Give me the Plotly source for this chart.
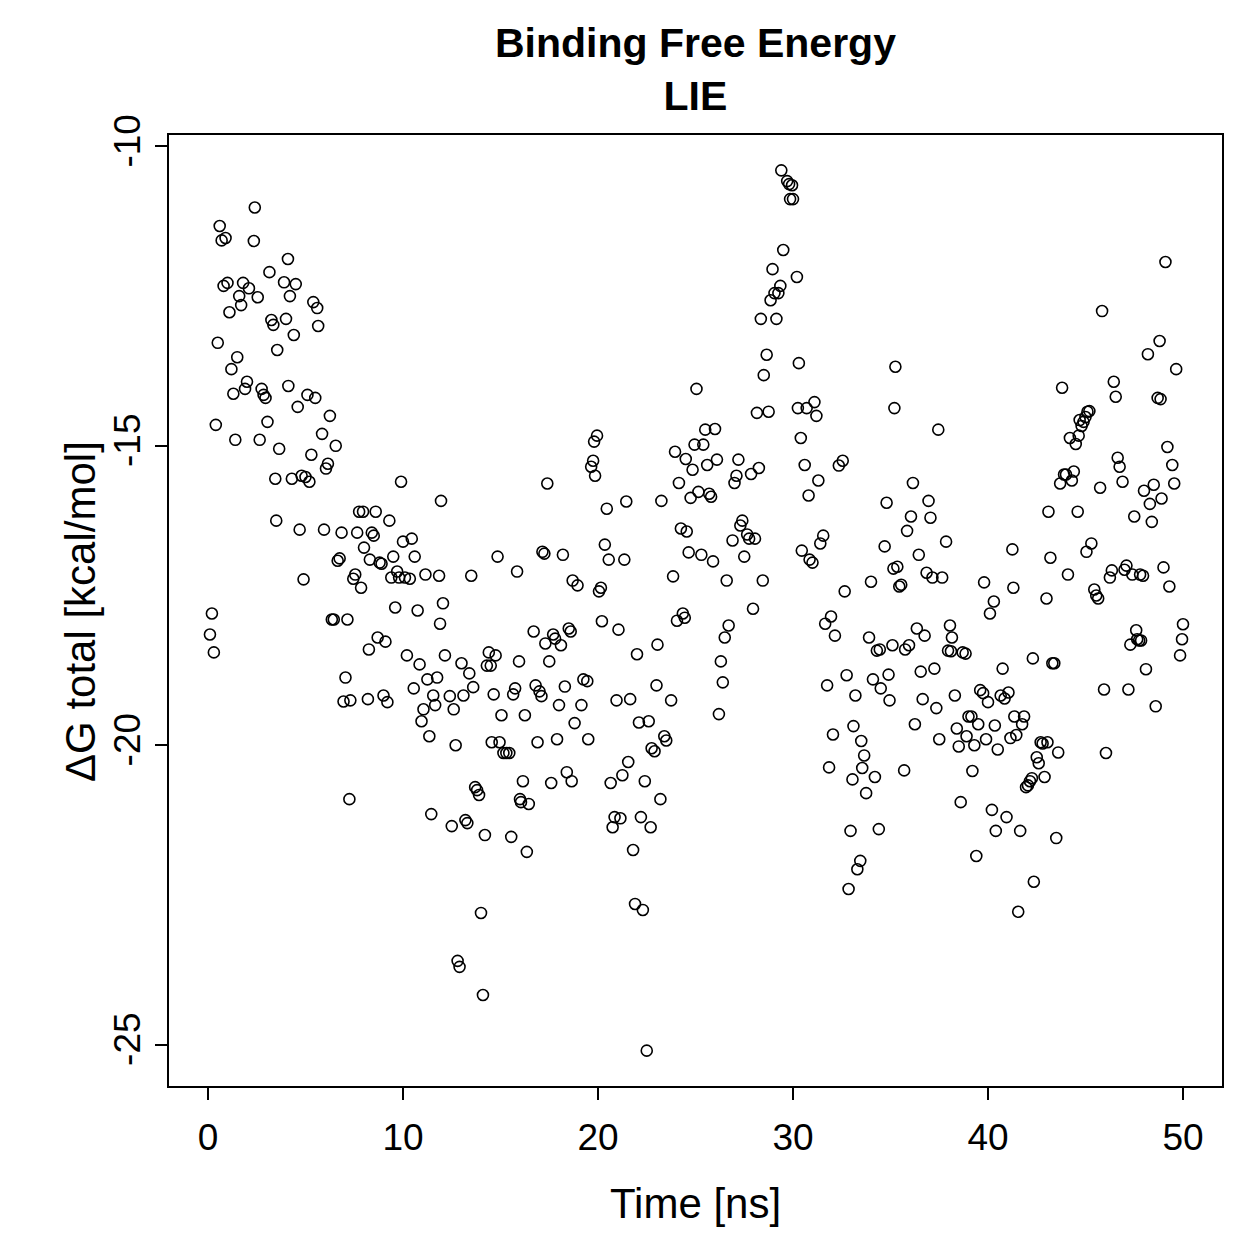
import plotly.graph_objects as go

time_ns = [
    0.1, 0.2, 0.3, 0.4, 0.5, 0.6, 0.7, 0.9, 0.8, 1.0, 1.1, 1.2, 1.3, 1.4, 1.5, 1.6, 1.7, 1.8, 1.9, 2.0,
    2.1, 2.35, 2.4, 2.55, 2.65, 2.75, 2.85, 2.95, 3.05, 3.15, 3.25, 3.35, 3.45, 3.55, 3.5, 3.65, 3.9, 4.0, 4.1, 4.12,
    4.2, 4.3, 4.4, 4.5, 4.6, 4.7, 4.8, 5.0, 4.9, 5.1, 5.2, 5.3, 5.4, 5.6, 5.5, 5.65, 5.85, 5.95, 6.05, 6.15,
    6.25, 6.35, 6.45, 6.55, 6.65, 6.75, 6.85, 6.95, 7.05, 7.15, 7.25, 7.3, 7.45, 7.55, 7.65, 7.75, 7.85, 7.95, 8.0, 8.2,
    8.25, 8.3, 8.4, 8.5, 8.6, 8.7, 8.8, 8.9, 9.0, 9.2, 9.1, 9.3, 9.4, 9.5, 9.6, 9.7, 9.8, 9.9, 10.0, 10.1,
    10.2, 10.35, 10.45, 10.55, 10.6, 10.75, 10.85, 10.95, 11.05, 11.15, 11.25, 11.35, 11.45, 11.55, 11.65, 11.75, 11.85, 11.9, 11.95, 12.05,
    12.15, 12.4, 12.5, 12.6, 12.7, 12.8, 12.9, 13.0, 13.1, 13.2, 13.3, 13.4, 13.5, 13.6, 13.7, 13.8, 13.9, 14.0, 14.1, 14.2,
    14.3, 14.4, 14.5, 14.55, 14.65, 14.75, 14.85, 14.95, 15.05, 15.15, 15.3, 15.45, 15.55, 15.65, 15.75, 15.85, 15.95, 16.0, 16.05, 16.15,
    16.25, 16.35, 16.45, 16.7, 16.8, 16.9, 17.0, 17.1, 17.15, 17.25, 17.3, 17.4, 17.5, 17.6, 17.7, 17.8, 17.9, 18.0, 18.1, 18.2,
    18.3, 18.4, 18.5, 18.6, 18.65, 18.7, 18.8, 18.95, 19.15, 19.25, 19.45, 19.5, 19.65, 19.75, 19.8, 19.85, 19.95, 20.05, 20.15, 20.2,
    20.35, 20.45, 20.55, 20.65, 20.75, 20.85, 20.95, 21.05, 21.15, 21.25, 21.35, 21.45, 21.55, 21.65, 21.8, 21.9, 22.0, 22.1, 22.2, 22.3,
    22.4, 22.5, 22.6, 22.7, 22.75, 22.9, 23.0, 23.05, 23.2, 23.25, 23.4, 23.5, 23.75, 23.85, 23.95, 24.05, 24.15, 24.25, 24.35, 24.45,
    24.5, 24.55, 24.65, 24.75, 24.85, 24.95, 25.05, 25.15, 25.3, 25.4, 25.5, 25.6, 25.7, 25.8, 25.9, 26.0, 26.1, 26.2, 26.3, 26.4,
    26.5, 26.6, 26.7, 26.9, 27.0, 27.1, 27.2, 27.3, 27.4, 27.5, 27.65, 27.75, 27.85, 27.95, 28.05, 28.15, 28.25, 28.35, 28.45, 28.5,
    28.65, 28.75, 28.85, 28.95, 29.05, 29.15, 29.25, 29.35, 29.5, 29.4, 29.7, 29.8, 29.95, 29.85, 30.0, 30.2, 30.3, 30.25, 30.4, 30.45,
    30.6, 30.7, 30.8, 30.85, 31.0, 31.1, 31.2, 31.3, 31.4, 31.55, 31.65, 31.75, 31.85, 31.95, 32.05, 32.15, 32.35, 32.55, 32.65, 32.75,
    32.85, 32.95, 33.05, 33.1, 33.2, 33.3, 33.45, 33.5, 33.55, 33.65, 33.75, 33.9, 34.0, 34.1, 34.2, 34.3, 34.45, 34.4, 34.5, 34.7,
    34.8, 34.9, 34.95, 35.1, 35.15, 35.2, 35.25, 35.35, 35.45, 35.55, 35.7, 35.75, 35.85, 35.95, 36.05, 36.15, 36.25, 36.35, 36.45, 36.55,
    36.65, 36.75, 36.85, 36.95, 37.05, 37.15, 37.25, 37.35, 37.45, 37.5, 37.65, 37.85, 37.95, 38.1, 38.05, 38.15, 38.3, 38.4, 38.5, 38.6,
    38.7, 38.85, 38.9, 39.0, 39.15, 39.2, 39.3, 39.4, 39.5, 39.6, 39.75, 39.8, 39.9, 40.0, 40.1, 40.2, 40.3, 40.35, 40.4, 40.5,
    40.65, 40.75, 40.85, 40.95, 41.05, 41.15, 41.25, 41.3, 41.35, 41.45, 41.55, 41.65, 41.75, 41.85, 41.95, 42.05, 42.15, 42.25, 42.3, 42.35,
    42.5, 42.6, 42.7, 42.8, 42.9, 43.0, 43.05, 43.1, 43.2, 43.3, 43.4, 43.5, 43.6, 43.7, 43.8, 43.9, 44.0, 44.1, 44.2, 44.3,
    44.4, 44.5, 44.6, 44.65, 44.7, 44.8, 44.9, 45.0, 45.1, 45.2, 45.05, 45.3, 45.45, 45.55, 45.65, 45.75, 45.85, 45.95, 46.05, 46.25,
    46.35, 46.45, 46.55, 46.65, 46.75, 46.9, 47.0, 47.1, 47.2, 47.3, 47.4, 47.5, 47.6, 47.65, 47.75, 47.85, 47.8, 47.95, 48.0, 48.1,
    48.2, 48.3, 48.4, 48.5, 48.6, 48.7, 48.85, 48.8, 48.9, 49.0, 49.1, 49.2, 49.3, 49.45, 49.55, 49.65, 49.85, 49.95, 50.0,
]

dG_total = [
    -18.15, -17.8, -18.45, -14.65, -13.28, -11.33, -11.57, -11.53, -12.33, -12.28, -12.77, -13.72, -14.13, -14.9, -13.52, -12.5, -12.65, -12.28, -14.05, -13.93,
    -12.37, -11.58, -11.02, -12.52, -14.9, -14.05, -14.15, -14.2, -14.6, -12.1, -12.9, -12.98, -15.55, -13.4, -16.25, -15.05, -12.27, -12.88, -11.88, -14.0,
    -12.5, -15.55, -13.15, -12.3, -14.35, -16.4, -15.5, -15.52, -17.23, -14.15, -15.6, -15.15, -12.6, -12.7, -14.2, -13.0, -14.8, -16.4, -15.38, -15.3,
    -14.5, -17.9, -17.9, -15.0, -16.92, -16.88, -16.45, -19.27, -18.87, -17.9, -20.9, -19.25, -17.22, -17.15, -16.45, -16.1, -17.37, -16.1, -16.7, -19.23,
    -18.4, -16.9, -16.45, -16.5, -16.1, -18.2, -16.95, -16.97, -19.17, -19.28, -18.27, -16.25, -17.2, -16.85, -17.7, -17.1, -17.2, -15.6, -16.6, -17.2,
    -18.5, -17.22, -16.55, -19.05, -16.85, -17.75, -18.65, -19.6, -19.4, -17.15, -18.9, -19.85, -21.15, -19.17, -19.33, -18.87, -17.17, -17.97, -15.92, -17.63,
    -18.5, -19.18, -21.35, -19.4, -20.0, -23.6, -23.7, -18.63, -19.17, -21.25, -21.3, -18.8, -17.17, -19.03, -20.7, -20.75, -20.83, -22.8, -24.17, -21.5,
    -18.67, -18.45, -18.67, -19.95, -19.15, -18.5, -16.85, -19.95, -19.5, -20.13, -20.13, -20.13, -21.53, -19.15, -19.05, -17.1, -18.6, -20.9, -20.95, -20.6,
    -19.5, -21.78, -20.98, -18.1, -19.0, -19.95, -19.1, -19.18, -16.77, -16.8, -18.3, -15.63, -18.6, -20.63, -18.15, -18.22, -19.9, -19.33, -18.33, -16.82,
    -19.02, -20.45, -18.05, -18.1, -20.6, -17.25, -19.63, -17.33, -19.33, -18.9, -18.93, -19.9, -15.35, -15.25, -14.93, -15.5, -14.83, -17.43, -17.37, -17.93,
    -16.65, -16.05, -16.9, -20.63, -21.37, -21.2, -19.25, -18.07, -21.22, -20.5, -16.9, -15.93, -20.28, -19.23, -21.75, -22.65, -18.48, -19.62, -21.2, -22.75,
    -20.6, -25.1, -19.6, -21.37, -20.05, -20.1, -19.0, -18.32, -20.9, -15.92, -19.85, -19.92, -19.25, -17.18, -15.1, -17.92, -15.62, -16.38, -17.8, -17.87,
    -15.22, -16.43, -16.78, -15.87, -15.4, -14.98, -14.05, -15.77, -16.82, -14.98, -14.73, -15.32, -15.8, -15.85, -16.93, -14.72, -15.23, -19.48, -18.6, -18.95,
    -18.2, -17.25, -18.0, -16.58, -15.62, -15.5, -15.23, -16.33, -16.25, -16.85, -16.48, -16.55, -15.47, -17.72, -16.55, -14.45, -15.37, -12.88, -17.25, -13.82,
    -13.48, -14.43, -12.57, -12.05, -12.45, -12.88, -12.45, -12.33, -11.73, -10.4, -10.58, -10.63, -10.65, -10.88, -10.88, -12.18, -13.62, -14.37, -14.87, -16.75,
    -15.32, -14.37, -15.83, -16.9, -16.95, -14.27, -14.5, -15.58, -16.63, -16.5, -17.97, -19.0, -20.37, -17.85, -19.82, -18.17, -15.33, -15.25, -17.43, -18.83,
    -22.4, -21.43, -20.57, -19.68, -19.17, -22.07, -21.93, -19.93, -20.38, -20.17, -20.8, -18.2, -17.27, -18.9, -20.53, -18.42, -18.4, -21.4, -19.05, -16.68,
    -15.95, -18.82, -19.25, -18.33, -17.05, -14.37, -13.68, -17.02, -17.35, -17.32, -20.42, -18.4, -16.42, -18.33, -16.18, -15.62, -19.65, -18.05, -16.82, -18.77,
    -19.23, -18.17, -17.12, -15.92, -16.2, -17.2, -18.72, -19.38, -14.73, -19.9, -17.2, -16.6, -18.42, -18.43, -18.0, -18.2, -19.17, -19.72, -20.02, -20.95,
    -18.45, -18.47, -19.85, -19.52, -19.52, -20.43, -20.0, -21.85, -19.65, -19.08, -19.13, -17.28, -19.9, -19.28, -17.8, -21.08, -17.6, -19.67, -21.43, -20.07,
    -19.17, -18.72, -19.22, -21.2, -19.12, -19.88, -16.73, -17.37, -19.52, -19.83, -22.78, -21.43, -19.65, -19.52, -20.7, -20.67, -20.6, -20.55, -18.55, -22.28,
    -20.2, -20.3, -19.95, -19.97, -20.53, -17.55, -19.95, -16.1, -16.87, -18.63, -18.63, -21.55, -20.12, -15.63, -14.03, -15.48, -15.48, -17.15, -14.87, -15.58,
    -15.43, -14.97, -16.1, -14.83, -14.57, -14.67, -14.6, -14.52, -14.43, -14.42, -16.77, -16.63, -17.4, -17.5, -17.55, -15.7, -12.75, -19.07, -20.13, -17.2,
    -17.08, -13.93, -14.18, -15.2, -15.35, -15.6, -17.07, -17.0, -19.07, -18.32, -17.15, -16.18, -18.08, -18.23, -18.25, -18.25, -17.15, -17.17, -15.75, -18.73,
    -13.47, -15.97, -16.27, -15.65, -19.35, -14.2, -14.22, -13.25, -15.88, -17.03, -11.93, -15.02, -17.35, -15.32, -15.63, -13.72, -18.5, -18.23, -17.98,
]

x_ticks = [0, 10, 20, 30, 40, 50]
y_ticks = [-10, -15, -20, -25]

FONT = "Liberation Sans, Arial, Helvetica, sans-serif"

fig = go.Figure()
fig.add_trace(go.Scatter(
    x=time_ns, y=dG_total, mode="markers",
    marker=dict(symbol="circle-open", size=11, color="black", line=dict(width=1.6, color="black")),
    showlegend=False,
))

fig.update_layout(
    width=1259, height=1259,
    margin=dict(l=169, r=37, t=135, b=173),
    plot_bgcolor="white", paper_bgcolor="white",
    font=dict(family=FONT, size=37, color="black"),
    xaxis=dict(
        range=[-2, 52], tickvals=x_ticks, ticktext=[str(v) for v in x_ticks],
        ticks="outside", ticklen=12, tickwidth=2, tickcolor="black",
        showline=True, linecolor="black", linewidth=2, mirror=True,
        showgrid=False, zeroline=False, ticklabelstandoff=6,
        tickfont=dict(size=37),
    ),
    yaxis=dict(
        range=[-25.69, -9.81], tickvals=y_ticks, ticktext=[str(v) for v in y_ticks],
        ticks="outside", ticklen=12, tickwidth=2, tickcolor="black",
        showline=True, linecolor="black", linewidth=2, mirror=True,
        showgrid=False, zeroline=False, tickangle=-90,
        tickfont=dict(size=37),
    ),
    annotations=[
        dict(text="<b>Binding Free Energy</b><br><b>LIE</b>", xref="paper", yref="paper",
             x=0.5, y=(1086 - 70) / 951, xanchor="center", yanchor="middle",
             showarrow=False, font=dict(family=FONT, size=41, color="black")),
        dict(text="Time [ns]", xref="paper", yref="paper",
             x=0.5, y=(1086 - 1203) / 951, xanchor="center", yanchor="middle",
             showarrow=False, font=dict(family=FONT, size=42, color="black")),
        dict(text="ΔG total [kcal/mol]", xref="paper", yref="paper",
             x=(80 - 169) / 1053, y=(1086 - 612) / 951, xanchor="center", yanchor="middle",
             textangle=-90, showarrow=False, font=dict(family=FONT, size=42, color="black")),
    ],
)

fig.write_html("out.html")
